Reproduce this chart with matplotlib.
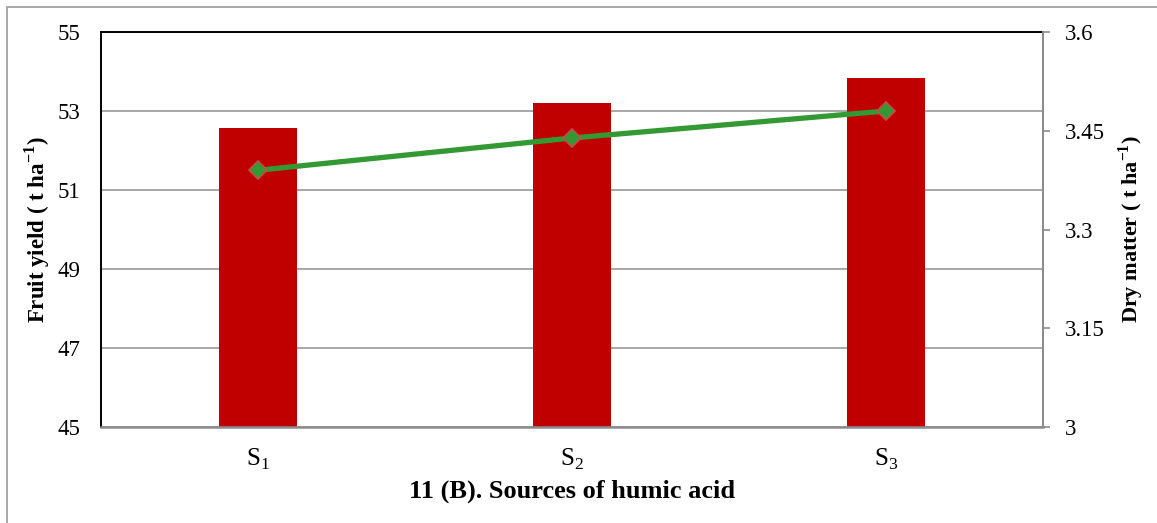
import matplotlib
matplotlib.use("Agg")
import matplotlib.pyplot as plt
from matplotlib.patches import Rectangle

categories = [r"$\mathrm{S}_1$", r"$\mathrm{S}_2$", r"$\mathrm{S}_3$"]
fruit_yield = [52.57, 53.20, 53.84]
dry_matter = [3.390, 3.439, 3.480]
left_ticks = [45, 47, 49, 51, 53, 55]
right_ticks = [3.0, 3.15, 3.3, 3.45, 3.6]
right_tick_labels = ["3", "3.15", "3.3", "3.45", "3.6"]

plt.rcParams["font.family"] = ["Liberation Serif", "DejaVu Serif"]
plt.rcParams["mathtext.fontset"] = "custom"
plt.rcParams["mathtext.rm"] = "Liberation Serif"
plt.rcParams["mathtext.bf"] = "Liberation Serif:bold"

W, H = 1157, 523
fig = plt.figure(figsize=(W / 100, H / 100), dpi=100)

# outer frame of the chart area
fig.patches.append(Rectangle((7 / W, -0.01), 1.2, (H - 7) / H + 0.01,
                             transform=fig.transFigure, fill=False,
                             edgecolor="#9a9a9a", linewidth=1.2))

ax = fig.add_axes([101 / W, 1 - 427 / H, (1043 - 101) / W, (427 - 32) / H])
x = list(range(len(categories)))

ax.bar(x, fruit_yield, width=0.25, color="#C00000", zorder=2)
ax.set_xlim(-0.5, 2.5)
ax.set_ylim(45, 55)
ax.set_yticks(left_ticks)
ax.yaxis.grid(True, color="#a0a0a0", linewidth=1.3, zorder=0)
ax.set_axisbelow(True)
ax.tick_params(axis="y", length=0, labelsize=16.5, pad=15)
ax.tick_params(axis="x", length=0, labelsize=18, pad=14)
ax.set_xticks(x)
ax.set_xticklabels(categories)

for side in ["left", "top"]:
    ax.spines[side].set_color("black")
    ax.spines[side].set_linewidth(1.4)
ax.spines["bottom"].set_color("#8c8c8c")
ax.spines["bottom"].set_linewidth(1.8)
ax.spines["right"].set_color("#8c8c8c")
ax.spines["right"].set_linewidth(1.4)

ax.set_ylabel("Fruit yield ( t ha$^{\\mathbf{-1}}$)", fontsize=16.5,
              fontweight="bold", labelpad=4)
ax.set_xlabel("11 (B). Sources of humic acid", fontsize=19,
              fontweight="bold", labelpad=6)

ax2 = ax.twinx()
ax2.plot(x, dry_matter, color="#339933", linewidth=3.8, marker="D",
         markersize=9, markerfacecolor="#339933", markeredgecolor="#C0504D",
         markeredgewidth=1.2, zorder=3)
ax2.set_ylim(3.0, 3.6)
ax2.set_yticks(right_ticks)
ax2.set_yticklabels(right_tick_labels)
ax2.tick_params(axis="y", length=5, width=1.2, color="#8c8c8c",
                labelsize=16.5, pad=11)
for side in ["left", "top", "bottom"]:
    ax2.spines[side].set_visible(False)
ax2.spines["right"].set_color("#8c8c8c")
ax2.spines["right"].set_linewidth(1.4)
ax2.set_ylabel("Dry matter ( t ha$^{\\mathbf{-1}}$)", fontsize=16,
               fontweight="bold", labelpad=8)

fig.savefig("out.png", dpi=100)
